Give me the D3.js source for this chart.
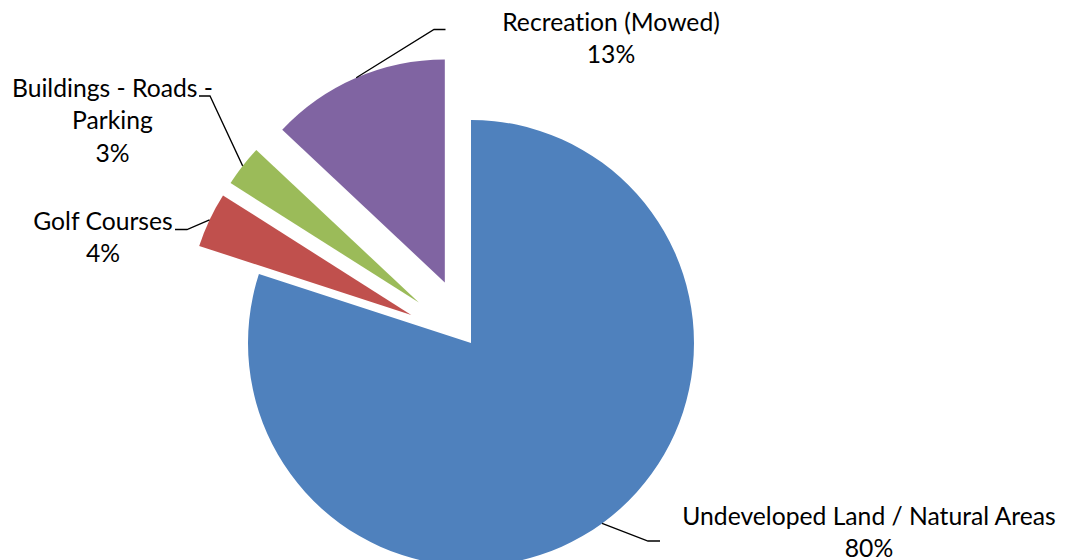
<!DOCTYPE html>
<html>
<head>
<meta charset="utf-8">
<script src="https://cdn.jsdelivr.net/npm/d3@7"></script>
<style>
  html, body { margin: 0; padding: 0; background: #fff; }
  svg { display: block; }
  text { font-family: Lato, "Open Sans", sans-serif; fill: #000; font-variant-ligatures: none; }
</style>
</head>
<body>
<svg id="chart" width="1066" height="560"></svg>
<script>
// Land use shares (percent)
const categories = [
  "Undeveloped Land / Natural Areas",
  "Golf Courses",
  "Buildings - Roads - Parking",
  "Recreation (Mowed)"
];
const shares = [80, 4, 3, 13];
const sliceColors = ["#4F81BD", "#C0504D", "#9BBB59", "#8064A2"];

// Layout of the pie and of the callout labels
const cx = 471, cy = 343, radius = 223, explode = 66;
const fontSize = 24.7, lineHeight = 32.5;
const labelLayout = [
  { x: 869, y: 524.5, breakAfter: null, elbow: [648, 541], end: [660, 541] },
  { x: 112.5, y: 229.5, breakAfter: null, elbow: [187, 229.5], end: [175, 229.5] },
  { x: 112.5, y: 96.5, breakAfter: 4, elbow: [210, 96], end: [199, 96] },
  { x: 611, y: 30.5, breakAfter: null, elbow: [434, 29.5], end: [445.5, 29.5] }
];
labelLayout[1].x = 103;

const svg = d3.select("#chart");
const total = d3.sum(shares);
const pct = d3.format(".0%");

const pie = d3.pie().sort(null).value(d => d.value).startAngle(0).endAngle(2 * Math.PI);
const arcs = pie(shares.map((v, i) => ({ value: v, name: categories[i], color: sliceColors[i], i })));

const arc = d3.arc().innerRadius(0).outerRadius(radius);

function offsetOf(d) {
  if (d.index === 0) return [0, 0];
  const mid = (d.startAngle + d.endAngle) / 2;
  return [Math.sin(mid) * explode, -Math.cos(mid) * explode];
}

const g = svg.append("g").attr("transform", `translate(${cx},${cy})`);

g.selectAll("path.slice")
  .data(arcs)
  .join("path")
  .attr("class", "slice")
  .attr("d", arc)
  .attr("fill", d => d.data.color)
  .attr("transform", d => `translate(${offsetOf(d)})`);

// Leader lines: from the slice rim at its mid angle, to an elbow, then a short horizontal run
svg.selectAll("polyline.leader")
  .data(arcs)
  .join("polyline")
  .attr("class", "leader")
  .attr("fill", "none")
  .attr("stroke", "#000")
  .attr("stroke-width", 1.3)
  .attr("points", d => {
    const [ox, oy] = offsetOf(d);
    const mid = (d.startAngle + d.endAngle) / 2;
    const sx = cx + ox + Math.sin(mid) * radius;
    const sy = cy + oy - Math.cos(mid) * radius;
    const L = labelLayout[d.index];
    return [[sx, sy], L.elbow, L.end].map(p => p.join(",")).join(" ");
  });

// Labels: category name (wrapped where set) and percent share
arcs.forEach(d => {
  const L = labelLayout[d.index];
  let lines;
  if (L.breakAfter) {
    const words = d.data.name.split(" ");
    lines = [words.slice(0, L.breakAfter).join(" "), words.slice(L.breakAfter).join(" ")];
  } else {
    lines = [d.data.name];
  }
  lines.push(pct(d.data.value / total));
  const t = svg.append("text")
    .attr("text-anchor", "middle")
    .attr("font-size", fontSize);
  lines.forEach((line, k) => {
    t.append("tspan")
      .attr("x", L.x)
      .attr("y", L.y + k * lineHeight)
      .text(line);
  });
});
</script>
</body>
</html>
